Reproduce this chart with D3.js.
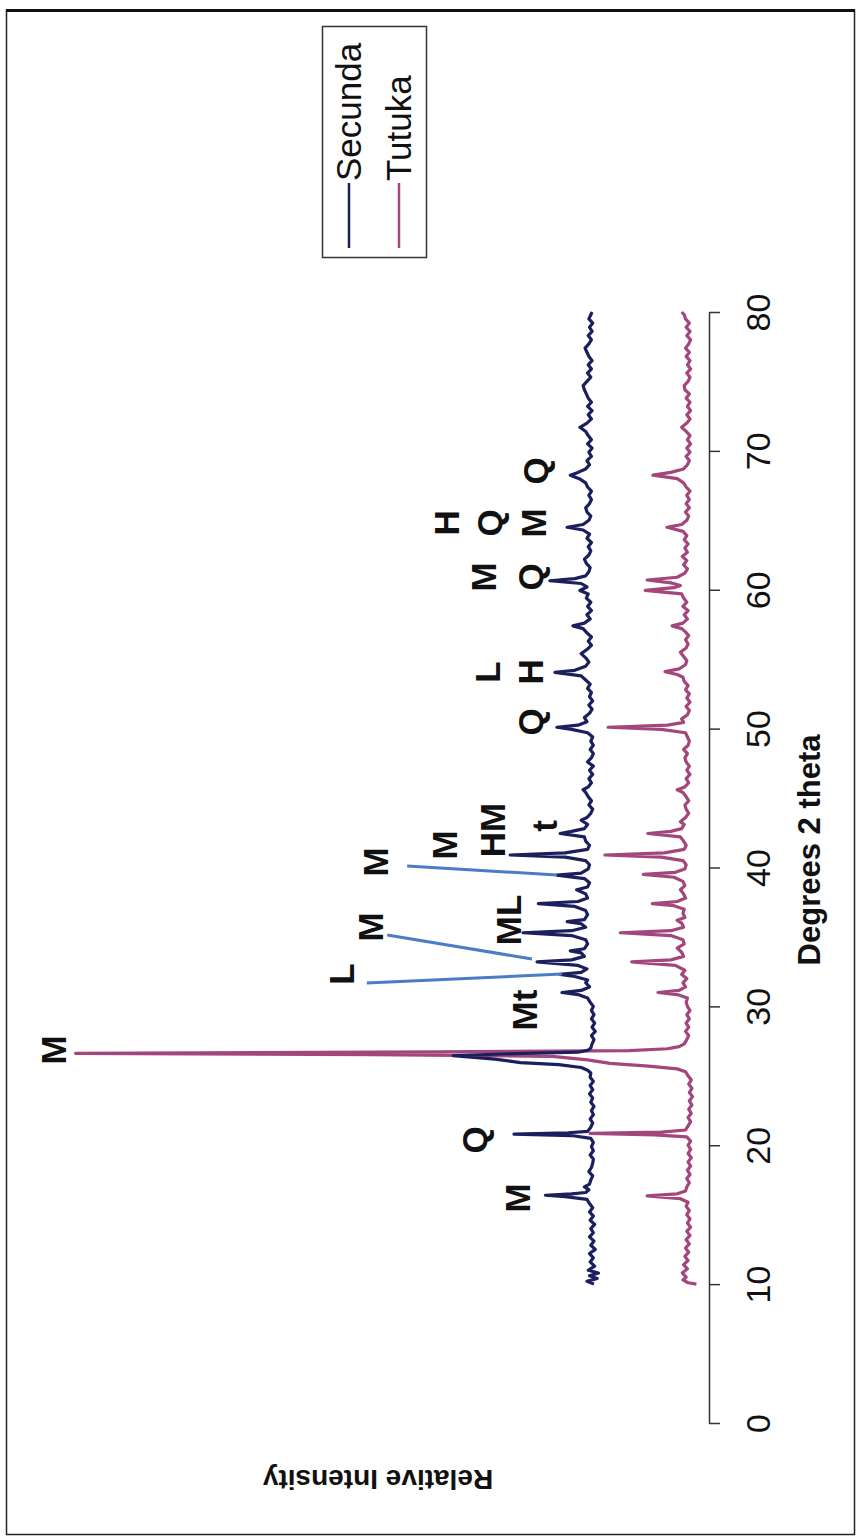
<!DOCTYPE html>
<html lang="en">
<head>
<meta charset="utf-8">
<title>XRD patterns - Secunda / Tutuka</title>
<script src="https://d3js.org/d3.v7.min.js"></script>
<style>
  body { margin: 0; background: #fff; }
  svg { display: block; font-family: 'Liberation Sans', Arial, sans-serif; }
</style>
</head>
<body>
<div id="chart"></div>
<script>

/* Data */
/* ==== */

// [degrees 2 theta, relative intensity]
var secunda = [
  [10.0,25],[10.2,36],[10.4,20],[10.6,32],[10.8,18],[11.0,34],[11.3,24],[11.6,31],[11.9,26],[12.2,32],
  [12.5,23],[12.8,30],[13.1,25],[13.4,32],[13.7,26],[14.0,30],[14.3,24],[14.6,31],[14.9,26],[15.2,32],
  [15.5,27],[15.8,32],[16.1,36],[16.3,70],[16.4,101],[16.5,60],[16.6,38],[16.8,33],[17.0,40],[17.2,32],
  [17.5,30],[17.8,27],[18.1,33],[18.4,29],[18.7,27],[19.0,26],[19.3,31],[19.6,26],[19.9,29],[20.2,26],
  [20.5,30],[20.7,60],[20.8,150],[20.9,65],[21.0,35],[21.3,30],[21.6,27],[21.9,31],[22.2,26],[22.5,29],
  [22.8,25],[23.1,30],[23.4,27],[23.7,32],[24.0,27],[24.3,31],[24.6,26],[24.9,31],[25.2,30],[25.4,35],
  [25.6,45],[25.8,80],[25.95,140],[26.2,180],[26.45,245],[26.6,150],[26.7,50],[26.85,34],[27.0,30],[27.3,28],
  [27.6,25],[27.9,29],[28.2,23],[28.5,28],[28.8,24],[29.1,29],[29.4,25],[29.7,29],[30.0,26],[30.3,31],
  [30.6,35],[30.85,50],[31.0,75],[31.15,45],[31.4,32],[31.7,38],[31.9,35],[32.15,55],[32.3,78],[32.45,45],
  [32.7,36],[32.95,50],[33.2,114],[33.35,60],[33.6,40],[33.85,45],[34.0,62],[34.15,40],[34.5,35],[34.8,38],
  [35.1,60],[35.3,136],[35.45,60],[35.7,38],[35.95,45],[36.1,67],[36.25,40],[36.6,35],[36.9,38],[37.2,55],
  [37.4,112],[37.55,50],[37.8,35],[38.1,38],[38.4,52],[38.6,35],[38.9,32],[39.2,40],[39.45,83],[39.6,45],
  [39.9,34],[40.2,32],[40.5,38],[40.75,70],[40.9,156],[41.05,70],[41.3,35],[41.6,32],[41.9,38],[42.2,40],
  [42.45,78],[42.6,60],[42.8,40],[43.1,35],[43.4,45],[43.6,36],[43.9,30],[44.2,27],[44.5,33],[44.8,29],
  [45.1,34],[45.4,38],[45.6,42],[45.8,34],[46.1,29],[46.4,33],[46.7,27],[47.0,32],[47.3,26],[47.6,35],
  [47.9,29],[48.2,26],[48.5,31],[48.8,26],[49.1,30],[49.4,27],[49.7,35],[49.95,60],[50.1,83],[50.25,50],
  [50.5,36],[50.8,40],[51.1,32],[51.4,28],[51.7,33],[52.0,27],[52.3,32],[52.6,29],[52.9,35],[53.2,31],
  [53.5,38],[53.8,45],[54.05,86],[54.2,55],[54.5,38],[54.8,33],[55.1,38],[55.4,45],[55.7,36],[56.0,29],
  [56.3,34],[56.6,29],[56.9,36],[57.2,42],[57.4,58],[57.6,40],[57.9,31],[58.2,36],[58.5,29],[58.8,35],
  [59.1,30],[59.4,37],[59.7,34],[59.95,47],[60.2,36],[60.45,45],[60.65,94],[60.8,55],[61.0,38],[61.3,33],
  [61.6,31],[61.9,37],[62.2,40],[62.5,33],[62.8,30],[63.1,34],[63.4,29],[63.7,36],[64.0,32],[64.3,42],
  [64.5,67],[64.7,42],[65.0,33],[65.3,30],[65.6,36],[65.9,38],[66.2,32],[66.5,29],[66.8,33],[67.1,29],
  [67.4,35],[67.7,38],[68.0,48],[68.25,62],[68.45,50],[68.7,38],[69.0,32],[69.3,36],[69.6,29],[69.9,33],
  [70.2,28],[70.5,35],[70.8,29],[71.1,34],[71.4,38],[71.7,47],[72.0,36],[72.3,29],[72.6,34],[72.9,28],
  [73.2,35],[73.5,29],[73.8,34],[74.1,37],[74.4,40],[74.7,42],[75.0,36],[75.3,30],[75.6,35],[75.9,29],
  [76.2,34],[76.5,28],[76.8,33],[77.1,36],[77.4,39],[77.7,33],[78.0,29],[78.3,34],[78.6,28],[78.9,32],
  [79.2,27],[79.5,33],[79.8,30],[80.0,28]
];

var tutuka = [
  [10.0,15],[10.1,28],[10.3,36],[10.5,31],[10.8,37],[11.1,29],[11.4,35],[11.7,28],[12.0,33],[12.3,27],
  [12.6,32],[12.9,26],[13.2,31],[13.5,25],[13.8,30],[14.1,24],[14.4,29],[14.7,25],[15.0,30],[15.3,26],
  [15.6,31],[15.9,28],[16.15,40],[16.35,92],[16.5,45],[16.7,32],[17.0,30],[17.3,26],[17.6,30],[17.9,25],
  [18.2,29],[18.5,24],[18.8,28],[19.1,23],[19.4,28],[19.7,24],[20.0,28],[20.3,24],[20.6,30],[20.75,80],
  [20.85,181],[20.95,70],[21.1,32],[21.4,28],[21.7,24],[22.0,28],[22.3,23],[22.6,27],[22.9,22],[23.2,26],
  [23.5,21],[23.8,26],[24.1,22],[24.4,27],[24.7,23],[25.0,28],[25.3,32],[25.5,45],[25.7,90],[25.9,150],
  [26.15,185],[26.4,240],[26.52,520],[26.62,985],[26.72,420],[26.82,120],[26.95,60],[27.1,42],[27.3,34],[27.6,30],
  [27.9,27],[28.2,32],[28.5,27],[28.8,31],[29.1,26],[29.4,30],[29.7,25],[30.0,29],[30.3,31],[30.6,29],
  [30.85,45],[31.0,75],[31.15,42],[31.4,32],[31.7,36],[32.0,30],[32.3,38],[32.6,33],[32.95,48],[33.2,116],
  [33.35,55],[33.6,35],[33.9,38],[34.2,45],[34.5,34],[34.8,36],[35.1,55],[35.3,134],[35.45,55],[35.7,35],
  [36.0,38],[36.2,45],[36.4,33],[36.7,36],[37.0,34],[37.25,50],[37.4,84],[37.55,45],[37.8,32],[38.1,35],
  [38.4,40],[38.7,33],[39.0,36],[39.3,50],[39.5,98],[39.65,48],[39.9,33],[40.2,31],[40.5,36],[40.75,70],
  [40.9,158],[41.05,65],[41.3,34],[41.6,31],[41.9,35],[42.2,40],[42.45,91],[42.6,55],[42.8,38],[43.1,34],
  [43.3,40],[43.6,32],[43.9,27],[44.2,31],[44.5,33],[44.8,27],[45.1,31],[45.4,36],[45.6,45],[45.8,33],
  [46.1,27],[46.4,31],[46.7,25],[47.0,30],[47.3,26],[47.6,31],[47.9,33],[48.2,29],[48.5,35],[48.8,28],
  [49.1,26],[49.4,29],[49.7,32],[49.95,70],[50.1,153],[50.25,60],[50.45,35],[50.7,38],[51.0,29],[51.3,26],
  [51.6,31],[51.9,25],[52.2,30],[52.5,26],[52.8,32],[53.1,28],[53.4,34],[53.7,36],[53.9,45],[54.1,64],
  [54.3,42],[54.6,32],[54.9,30],[55.2,35],[55.5,40],[55.8,31],[56.1,28],[56.4,32],[56.7,27],[57.0,33],
  [57.2,38],[57.4,53],[57.6,36],[57.9,29],[58.2,34],[58.5,28],[58.8,36],[59.1,30],[59.4,35],[59.7,38],
  [59.95,95],[60.15,50],[60.3,40],[60.5,55],[60.7,92],[60.9,45],[61.2,33],[61.5,29],[61.8,35],[62.1,30],
  [62.4,37],[62.7,29],[63.0,33],[63.3,28],[63.6,34],[63.9,30],[64.2,36],[64.5,61],[64.7,38],[65.0,30],
  [65.3,27],[65.6,32],[65.9,26],[66.2,31],[66.5,26],[66.8,30],[67.1,25],[67.4,31],[67.7,35],[68.0,45],
  [68.25,83],[68.45,55],[68.7,35],[69.0,29],[69.3,26],[69.6,31],[69.9,25],[70.2,30],[70.5,24],[70.8,29],
  [71.1,25],[71.4,31],[71.7,38],[72.0,30],[72.3,25],[72.6,30],[72.9,24],[73.2,29],[73.5,25],[73.8,31],
  [74.1,26],[74.4,33],[74.7,34],[75.0,28],[75.3,25],[75.6,30],[75.9,24],[76.2,29],[76.5,25],[76.8,31],
  [77.1,26],[77.4,32],[77.7,27],[78.0,24],[78.3,30],[78.6,25],[78.9,31],[79.2,26],[79.5,32],[79.8,34],
  [80.0,38]
];

var secundaOffset = 150;   // Secunda trace is stacked above Tutuka

var seriesNames = ['Secunda', 'Tutuka'];
var seriesColors = ['#1b1f5e', '#a3467c'];

var thetaTicks = [0, 10, 20, 30, 40, 50, 60, 70, 80];

// phase labels: [text, 2 theta, intensity]
var peakLabels = [
  ['M', 16.2, 295], ['Q', 20.38, 362], ['M', 26.86, 1020], ['Mt', 29.74, 283],
  ['L', 32.33, 570], ['M', 35.72, 525], ['ML', 36.22, 309], ['M', 40.4, 516],
  ['M', 41.62, 408], ['HM', 42.7, 333], ['t', 42.99, 252], ['Q', 50.48, 275],
  ['L', 54.08, 341], ['H', 54.08, 275], ['M', 60.92, 348], ['Q', 60.92, 275],
  ['H', 64.81, 406], ['Q', 64.81, 338], ['M', 64.81, 270], ['Q', 68.55, 266]
];

// leader lines: [theta1, int1, theta2, int2]
var leaders = [
  [31.68, 530, 32.33, 225],
  [35.14, 498, 33.41, 272],
  [40.11, 467, 39.46, 233]
];


/* Setup */
/* ===== */

var width = 856,
    height = 1537;

var svg = d3.select('#chart').append('svg')
    .attr('width', width)
    .attr('height', height);

svg.append('rect')
    .attr('width', width)
    .attr('height', height)
    .attr('fill', '#fff');

// Chart is turned on its side: 2 theta runs bottom -> top, intensity right -> left
var x = d3.scaleLinear().domain([0, 80]).range([1423, 312]);
var y = d3.scaleLinear().domain([0, 1000]).range([706, 66]);

// Outer frame
svg.append('rect')
    .attr('x', 6.5).attr('y', 10.5)
    .attr('width', 848).attr('height', 1524)
    .attr('fill', 'none')
    .attr('stroke', '#222')
    .attr('stroke-width', 1.5);

svg.append('line')
    .attr('x1', 6).attr('x2', 855)
    .attr('y1', 10.5).attr('y2', 10.5)
    .attr('stroke', '#111')
    .attr('stroke-width', 3);


/* Axis */
/* ==== */

var axis = svg.append('g')
    .attr('transform', 'translate(709,0)')
    .call(d3.axisRight(x).tickValues(thetaTicks).tickSize(11).tickSizeOuter(0));

axis.select('.domain').attr('stroke', '#333').attr('stroke-width', 1.5);
axis.selectAll('.tick line').attr('stroke', '#333').attr('stroke-width', 1.5);
axis.selectAll('.tick text')
    .attr('x', null)
    .attr('dy', null)
    .attr('transform', 'translate(61,0) rotate(-90)')
    .attr('text-anchor', 'middle')
    .attr('fill', '#111')
    .style('font-size', '34px')
    .style('font-family', "'Liberation Sans', Arial, sans-serif");

svg.append('text')
    .attr('transform', 'translate(820,850) rotate(-90)')
    .attr('text-anchor', 'middle')
    .style('font-size', '31px')
    .style('font-weight', 'bold')
    .attr('fill', '#111')
    .text('Degrees 2 theta');

svg.append('text')
    .attr('transform', 'translate(378,1470) rotate(180)')
    .attr('text-anchor', 'middle')
    .style('font-size', '28px')
    .style('font-weight', 'bold')
    .attr('fill', '#111')
    .text('Relative Intensity');


/* Traces */
/* ====== */

function makeLine(offset) {
  return d3.line()
      .x(function(d) { return y(d[1] + offset); })
      .y(function(d) { return x(d[0]); });
}

svg.append('path')
    .datum(tutuka)
    .attr('d', makeLine(0))
    .attr('fill', 'none')
    .attr('stroke', seriesColors[1])
    .attr('stroke-width', 3.2)
    .attr('stroke-linejoin', 'round');

svg.append('path')
    .datum(secunda)
    .attr('d', makeLine(secundaOffset))
    .attr('fill', 'none')
    .attr('stroke', seriesColors[0])
    .attr('stroke-width', 3.2)
    .attr('stroke-linejoin', 'round');


/* Annotations */
/* =========== */

svg.append('g').selectAll('line')
    .data(leaders)
    .join('line')
    .attr('x1', function(d) { return y(d[1]); })
    .attr('y1', function(d) { return x(d[0]); })
    .attr('x2', function(d) { return y(d[3]); })
    .attr('y2', function(d) { return x(d[2]); })
    .attr('stroke', '#4a7cc8')
    .attr('stroke-width', 3);

svg.append('g').selectAll('text')
    .data(peakLabels)
    .join('text')
    .attr('transform', function(d) { return 'translate(' + y(d[2]) + ',' + x(d[1]) + ') rotate(-90)'; })
    .attr('text-anchor', 'middle')
    .attr('dominant-baseline', 'central')
    .style('font-size', '35px')
    .style('font-weight', 'bold')
    .attr('fill', '#111')
    .text(function(d) { return d[0]; });


/* Legend */
/* ====== */

var legend = svg.append('g');

legend.append('rect')
    .attr('x', 322.5).attr('y', 26.5)
    .attr('width', 104).attr('height', 231)
    .attr('fill', '#fff')
    .attr('stroke', '#333')
    .attr('stroke-width', 1.5);

var legendX = [349, 399];

seriesNames.forEach(function(name, i) {
  legend.append('line')
      .attr('x1', legendX[i]).attr('x2', legendX[i])
      .attr('y1', 248).attr('y2', 183)
      .attr('stroke', seriesColors[i])
      .attr('stroke-width', 2.5);

  legend.append('text')
      .attr('transform', 'translate(' + (legendX[i] + 12) + ',181) rotate(-90)')
      .attr('text-anchor', 'start')
      .style('font-size', '35px')
      .attr('fill', '#111')
      .text(name);
});

</script>
</body>
</html>
